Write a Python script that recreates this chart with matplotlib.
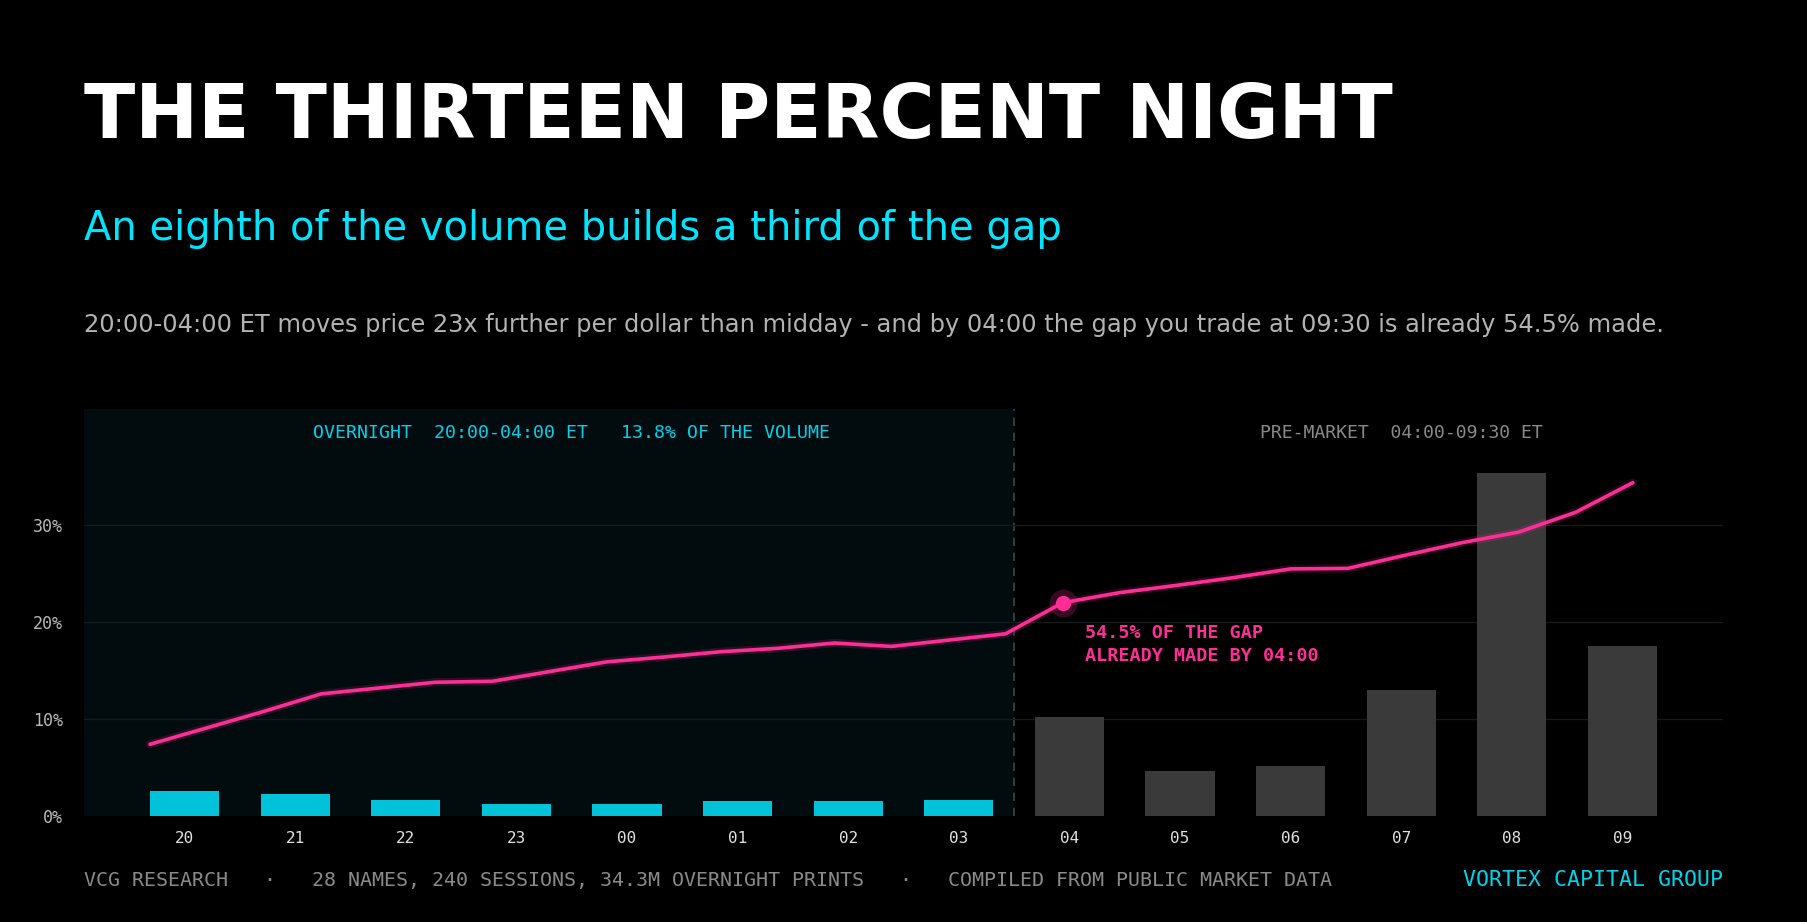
import matplotlib
matplotlib.use("Agg")
import matplotlib.pyplot as plt
import numpy as np

# ---------------- data ----------------
hours = ["20", "21", "22", "23", "00", "01", "02", "03",
         "04", "05", "06", "07", "08", "09"]
volume_share = [2.55, 2.25, 1.65, 1.2, 1.2, 1.5, 1.5, 1.65,
                10.2, 4.6, 5.2, 13.0, 35.4, 17.5]
n_overnight = 8
# cumulative gap build, half-hour steps 20:00 .. 09:00
gap_path = [7.4, 9.1, 10.8, 12.6, 13.2, 13.8, 13.9, 14.9, 15.9, 16.4,
            16.95, 17.3, 17.85, 17.5, 18.15, 18.8, 22.0,
            23.05, 23.8, 24.6, 25.5, 25.55, 26.9, 28.2, 29.3, 31.35, 34.4]
marker_idx = 16
yticks = [0, 10, 20, 30]
ytick_labels = ["0%", "10%", "20%", "30%"]

title = "THE THIRTEEN PERCENT NIGHT"
subtitle = "An eighth of the volume builds a third of the gap"
description = ("20:00-04:00 ET moves price 23x further per dollar than midday - "
               "and by 04:00 the gap you trade at 09:30 is already 54.5% made.")
overnight_label = "OVERNIGHT  20:00-04:00 ET   13.8% OF THE VOLUME"
premarket_label = "PRE-MARKET  04:00-09:30 ET"
annotation = "54.5% OF THE GAP\nALREADY MADE BY 04:00"
footer_left = ("VCG RESEARCH   \u00b7   28 NAMES, 240 SESSIONS, 34.3M OVERNIGHT PRINTS"
               "   \u00b7   COMPILED FROM PUBLIC MARKET DATA")
footer_right = "VORTEX CAPITAL GROUP"

# ---------------- style ----------------
BG = "#000000"
PANEL = "#020b0d"
CYAN = "#00c2d9"
CYAN_TXT = "#00d2ea"
SUB_CYAN = "#00e5ff"
GRAY_BAR = "#3a3a3a"
PINK = "#ff2e97"
GRID = "#141b1c"
MONO = "DejaVu Sans Mono"

W, H = 1807, 922
fig = plt.figure(figsize=(W / 100, H / 100), dpi=100, facecolor=BG)

ax_l, ax_r, ax_t, ax_b = 84, 1723, 409, 816
ax = fig.add_axes([ax_l / W, 1 - ax_b / H, (ax_r - ax_l) / W, (ax_b - ax_t) / H])
ax.set_facecolor(BG)

x = np.arange(len(hours))
ax.set_xlim(-0.91, 13.91)
ax.set_ylim(0, 42)

# overnight panel shading
ax.axvspan(-0.91, n_overnight - 0.5, color=PANEL, zorder=0, lw=0)
ax.axvline(n_overnight - 0.5, color="#3d4547", lw=1.2, ls=(0, (5, 4)), zorder=1)

for yv in yticks[1:]:
    ax.axhline(yv, color=GRID, lw=1, zorder=1)

colors = [CYAN] * n_overnight + [GRAY_BAR] * (len(hours) - n_overnight)
ax.bar(x, volume_share, width=0.625, color=colors, zorder=2, lw=0)

ax.set_xticks(x)
ax.set_xticklabels(hours, family=MONO, fontsize=11.5, color="#e0e0e0")
ax.set_yticks(yticks)
ax.set_yticklabels(ytick_labels, family=MONO, fontsize=12, color="#b8b8b8")
ax.tick_params(axis="x", length=0, pad=11)
ax.tick_params(axis="y", length=0, pad=15)
for s in ax.spines.values():
    s.set_visible(False)

ax.text((n_overnight - 1) / 2, 39.5, overnight_label, family=MONO, fontsize=13.15,
        color=CYAN_TXT, ha="center", va="center", zorder=5)
ax.text(11.0, 39.5, premarket_label, family=MONO, fontsize=13.1,
        color="#8a8a8a", ha="center", va="center", zorder=5)

# line on a twin x axis (half-hour positions)
ax2 = ax.twiny()
ax2.set_xlim(-1.157, 27.58)
ax2.set_ylim(0, 42)
ax2.axis("off")
j = np.arange(len(gap_path))
ax2.plot(j, gap_path, color=PINK, lw=6, alpha=0.15, solid_capstyle="round", zorder=3)
ax2.plot(j, gap_path, color=PINK, lw=2.6, solid_capstyle="round",
         solid_joinstyle="round", zorder=4)
ax2.plot([marker_idx], [gap_path[marker_idx]], "o", ms=20, color=PINK, alpha=0.22,
         mec="none", zorder=5)
ax2.plot([marker_idx], [gap_path[marker_idx]], "o", ms=11, color=PINK, mec="none", zorder=6)
ax2.annotate(annotation, xy=(marker_idx, gap_path[marker_idx]), xytext=(22, -42),
             textcoords="offset pixels", family=MONO, fontsize=13.2, fontweight="bold",
             color=PINK, ha="left", va="center", linespacing=1.35, zorder=6)

# headings
fig.text(ax_l / W, 1 - 138 / H, title, family="DejaVu Sans", fontweight="bold",
         fontsize=54.1, color="white", ha="left", va="baseline")
fig.text(ax_l / W, 1 - 240 / H, subtitle, family="DejaVu Sans",
         fontsize=28.8, color=SUB_CYAN, ha="left", va="baseline")
fig.text(ax_l / W, 1 - 332 / H, description, family="DejaVu Sans",
         fontsize=17.35, color="#b3b3b3", ha="left", va="baseline")

# footer
fig.text(ax_l / W, 1 - 886 / H, footer_left, family=MONO, fontsize=14.4,
         color="#8a8a8a", ha="left", va="baseline")
fig.text(ax_r / W, 1 - 886 / H, footer_right, family=MONO, fontsize=15.5,
         color=CYAN_TXT, ha="right", va="baseline")

fig.savefig("out.png", dpi=100, facecolor=BG)
